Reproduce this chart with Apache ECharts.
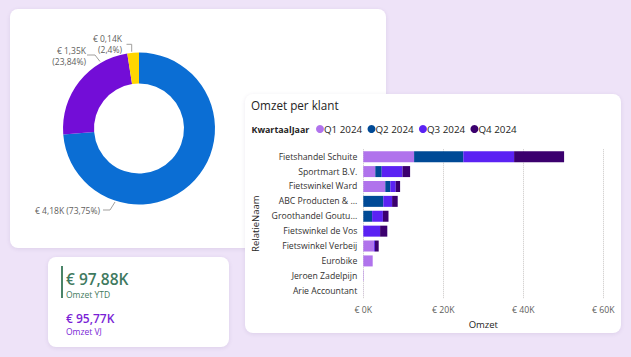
<!DOCTYPE html>
<html><head><meta charset="utf-8">
<script src="https://cdn.jsdelivr.net/npm/echarts@6/dist/echarts.min.js"></script>
<style>
html,body{margin:0;padding:0;width:631px;height:357px;overflow:hidden;background:#EEE3F8;font-family:"Open Sans",sans-serif;}
.card{position:absolute;background:#fff;border-radius:8px;box-shadow:0 1px 4px rgba(70,40,110,0.10);}
#donutCard{left:10px;top:9px;width:376px;height:239px;}
#barCard{left:245px;top:94px;width:376px;height:239px;}
#kpiCard{left:48px;top:257px;width:181px;height:90px;}
#kbar{position:absolute;left:13px;top:9px;width:1.5px;height:32px;background:#4A8468;}
.kt{position:absolute;left:18px;white-space:nowrap;}
#k1v{top:13.8px;font-size:15.5px;line-height:16px;font-weight:600;color:#3F7A60;}
#k1l{top:33.2px;font-size:8.5px;line-height:10px;color:#3F7A60;}
#k2v{top:54.8px;font-size:12px;line-height:13px;font-weight:600;color:#7A1FD6;}
#k2l{top:70.4px;font-size:8.5px;line-height:10px;color:#7A1FD6;}
</style></head>
<body>
<div id="donutCard" class="card"></div>
<div id="kpiCard" class="card">
  <div id="kbar"></div>
  <div id="k1v" class="kt"></div>
  <div id="k1l" class="kt"></div>
  <div id="k2v" class="kt"></div>
  <div id="k2l" class="kt"></div>
</div>
<div id="barCard" class="card"></div>
<script>
// ---- data ----
const categories = ['Fietshandel Schuite','Sportmart B.V.','Fietswinkel Ward','ABC Producten & ...','Groothandel Goutu...','Fietswinkel de Vos','Fietswinkel Verbeij','Eurobike','Jeroen Zadelpijn','Arie Accountant'];
const quarters = ['Q1 2024','Q2 2024','Q3 2024','Q4 2024'];
const q1Values = [12.7, 3.0, 5.5, 0, 0, 0, 2.65, 2.35, 0.1, 0.02];
const q2Values = [12.3, 1.6, 1.25, 5.0, 2.2, 0, 0, 0, 0, 0];
const q3Values = [12.7, 5.2, 1.35, 2.2, 2.7, 4.2, 0.25, 0, 0, 0];
const q4Values = [12.5, 1.9, 1.1, 1.4, 1.4, 1.8, 0.95, 0, 0, 0];
const xTicks = [0, 20, 40, 60];
const donutNames = ['Segment 1','Segment 2','Segment 3'];
const donutValues = [4.18, 1.35, 0.14];
const donutPercents = [73.75, 23.84, 2.4];
const kpiLabels = ['Omzet YTD','Omzet VJ'];
const kpiValues = [97.88, 95.77];

// ---- styles ----
const FONT = '"Open Sans", sans-serif';
const barColors = ['#B073EC','#004A96','#5B22F3','#3B006E'];
const donutColors = ['#0B6ED4','#730DD7','#FFD600'];
const fmtNum = v => String(v).replace('.', ',');
const fmtK = v => '€ ' + v.toFixed(2).replace('.', ',') + 'K';

document.getElementById('k1v').textContent = fmtK(kpiValues[0]);
document.getElementById('k1l').textContent = kpiLabels[0];
document.getElementById('k2v').textContent = fmtK(kpiValues[1]);
document.getElementById('k2l').textContent = kpiLabels[1];

// ---- donut ----
const labelLayoutCfg = [
  {x:90, y:201, pts:[[93,201],[100,201],[105,193]]},
  {x:76, y:46.5, pts:[[77,46],[85,46],[90,52.5]]},
  {x:112, y:35, pts:[[116.5,35.3],[121.7,35.3],[121.7,42.7]]}
];
const donut = echarts.init(document.getElementById('donutCard'), null, {renderer:'svg'});
donut.setOption({
  animation:false,
  textStyle:{fontFamily:FONT},
  series:[{
    type:'pie', center:[129,119.5], radius:[45,76], startAngle:90, clockwise:true,
    emphasis:{disabled:true},
    data: donutNames.map((n,i)=>({name:n, value:donutValues[i], itemStyle:{color:donutColors[i]}})),
    label:{show:true, position:'outside', overflow:'none', fontFamily:FONT, fontSize:8.5, lineHeight:11, color:'#605E5C', align:'right',
      formatter: p => fmtK(donutValues[p.dataIndex]) + (p.dataIndex===0 ? ' ' : '\n') + '(' + fmtNum(donutPercents[p.dataIndex]) + '%)'},
    labelLine:{show:true, lineStyle:{color:'#A19F9D', width:1}},
    labelLayout: p => {
      const c = labelLayoutCfg[p.dataIndex];
      return {x:c.x, y:c.y, align:'right', verticalAlign:'middle', width:120, labelLinePoints:c.pts};
    }
  }]
});

// ---- bars ----
const seriesValues = [q1Values, q2Values, q3Values, q4Values];
const bar = echarts.init(document.getElementById('barCard'), null, {renderer:'svg'});
bar.setOption({
  animation:false,
  textStyle:{fontFamily:FONT},
  title:[
    {text:'Omzet per klant', left:6, top:5, padding:0, textStyle:{fontFamily:FONT, fontSize:11.7, fontWeight:'normal', color:'#252423'}},
    {text:'KwartaalJaar', left:6.5, top:30.5, padding:0, textStyle:{fontFamily:FONT, fontSize:8.9, fontWeight:'bold', color:'#252423'}}
  ],
  legend:{left:71, top:30, padding:0, icon:'circle', itemWidth:8, itemHeight:8, itemGap:5.3,
    textStyle:{fontFamily:FONT, fontSize:9.8, color:'#252423', padding:[0,0,0,-5]}, data:quarters},
  grid:{left:118.3, right:17.7, top:55.25, bottom:34.85, containLabel:false, outerBoundsMode:'none'},
  xAxis:{type:'value', min:xTicks[0], max:xTicks[xTicks.length-1], interval:xTicks[1]-xTicks[0],
    axisLine:{show:false}, axisTick:{show:false},
    splitLine:{show:true, lineStyle:{type:'dotted', color:'#C8C6C4', width:1}},
    axisLabel:{formatter: v => '€ ' + v + 'K', fontFamily:FONT, fontSize:8.7, color:'#605E5C', margin:7},
    name:'Omzet', nameLocation:'middle', nameGap:20, nameTextStyle:{fontFamily:FONT, fontSize:9.5, color:'#252423'}},
  yAxis:{type:'category', inverse:true, data:categories,
    axisLine:{show:false}, axisTick:{show:false},
    axisLabel:{fontFamily:FONT, fontSize:8.7, color:'#323130', margin:6},
    name:'RelatieNaam', nameLocation:'middle', nameRotate:90, nameGap:101,
    nameTextStyle:{fontFamily:FONT, fontSize:9.5, color:'#252423'}},
  series: quarters.map((q,i)=>({type:'bar', name:q, stack:'total', barWidth:11,
    emphasis:{disabled:true}, data:seriesValues[i], itemStyle:{color:barColors[i]}}))
});
</script>
</body></html>
